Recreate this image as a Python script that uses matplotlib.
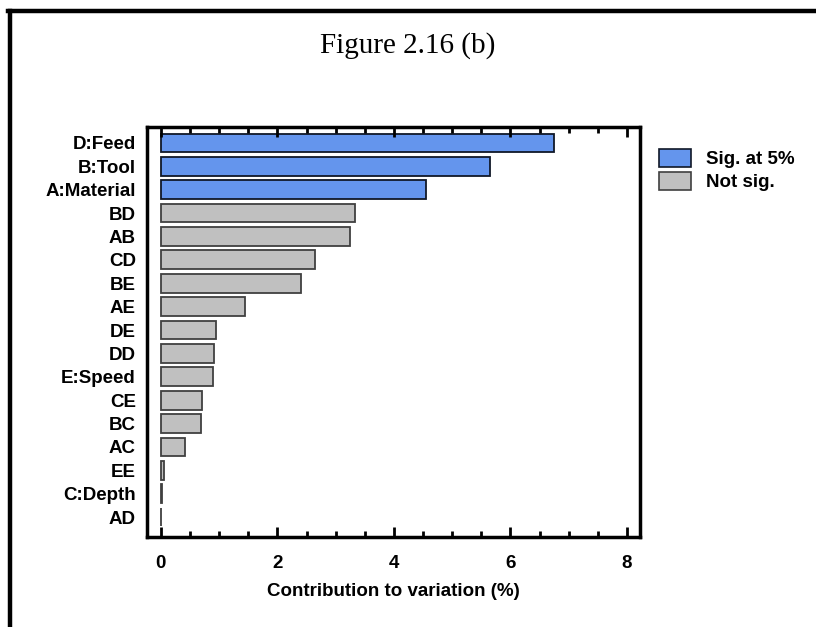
import matplotlib
matplotlib.use("Agg")
import matplotlib.pyplot as plt
from matplotlib.patches import Patch
from matplotlib.lines import Line2D
from matplotlib.ticker import MultipleLocator

# effects, top to bottom, with their contribution to variation (%)
effects = ['D:Feed', 'B:Tool', 'A:Material', 'BD', 'AB', 'CD', 'BE', 'AE',
           'DE', 'DD', 'E:Speed', 'CE', 'BC', 'AC', 'EE', 'C:Depth', 'AD']
contrib = [6.74, 5.65, 4.55, 3.33, 3.25, 2.64, 2.40, 1.44,
           0.94, 0.91, 0.89, 0.70, 0.69, 0.41, 0.06, 0.012, 0.005]
significant = [True, True, True] + [False] * 14

blue = '#6495ED'
grey = '#C0C0C0'
fam = ['Liberation Sans', 'DejaVu Sans']
lab_size = 13.5
bold = dict(family=fam, weight='bold')

fig = plt.figure(figsize=(8.16, 6.27), dpi=100)
ax = fig.add_axes([0.180, 0.1435, 0.604, 0.654])

colors = [blue if s else grey for s in significant]
edges = ['#101828' if s else '#404040' for s in significant]
ypos = list(range(len(effects)))
ax.barh(ypos, contrib, height=0.8, color=colors, edgecolor=edges, linewidth=1.3)

ax.set_ylim(16.85, -0.68)
ax.set_xlim(-0.24, 8.22)
ax.set_yticks(ypos)
ax.set_yticklabels(effects, fontsize=lab_size, **bold)
ax.tick_params(axis='y', length=0, pad=8)

ax.xaxis.set_major_locator(MultipleLocator(2))
ax.xaxis.set_minor_locator(MultipleLocator(0.5))
ax.tick_params(axis='x', which='major', direction='in', length=7, width=2,
               top=True, labelsize=lab_size, pad=13)
ax.tick_params(axis='x', which='minor', direction='in', length=4, width=2, top=True)
for lab in ax.get_xticklabels():
    lab.set_fontweight('bold')
    lab.set_family(fam)
for sp in ax.spines.values():
    sp.set_linewidth(2.5)

ax.set_xlabel('Contribution to variation (%)', fontsize=lab_size, labelpad=8, **bold)

fig.text(0.5, 0.927, 'Figure 2.16 (b)', ha='center', va='center', fontsize=21,
         family=['Liberation Serif', 'DejaVu Serif'])

handles = [Patch(facecolor=blue, edgecolor='#101828', linewidth=1.2, label='Sig. at 5%'),
           Patch(facecolor=grey, edgecolor='#404040', linewidth=1.2, label='Not sig.')]
fig.legend(handles=handles, loc='upper left', bbox_to_anchor=(0.787, 0.79),
           frameon=False, handlelength=1.7, handleheight=1.1, handletextpad=0.8,
           labelspacing=0.2, prop=dict(family=fam, weight='bold', size=lab_size))

# outer frame: left and top only
fig.add_artist(Line2D([0.0123, 0.0123], [0, 0.9825], transform=fig.transFigure,
                      color='black', linewidth=3.2))
fig.add_artist(Line2D([0.0098, 1.0], [0.9825, 0.9825], transform=fig.transFigure,
                      color='black', linewidth=3.2))

fig.savefig('out.png', dpi=100)
